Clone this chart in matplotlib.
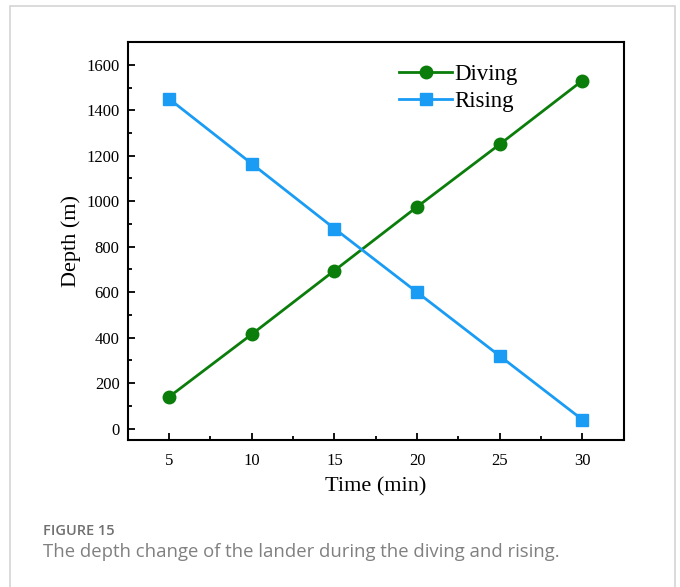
import matplotlib.pyplot as plt
from matplotlib.patches import Rectangle
from matplotlib.ticker import MultipleLocator

time_min = [5, 10, 15, 20, 25, 30]
diving = [140, 415, 695, 975, 1250, 1530]
rising = [1450, 1165, 880, 600, 320, 40]

plt.rcParams['font.family'] = ['Liberation Serif', 'DejaVu Serif']

fig = plt.figure(figsize=(6.8, 5.87), dpi=100)

# light frame around the figure card
fig.patches.append(Rectangle((10 / 680, -0.05), 665 / 680, 1.05 - 6 / 587,
                             transform=fig.transFigure, fill=False,
                             edgecolor='#d4d4d4', linewidth=1.2))

ax = fig.add_axes([0.188, 0.2504, 0.729, 0.678])
ax.plot(time_min, diving, color='#0a7d0a', linewidth=2, marker='o',
        markersize=9, label='Diving')
ax.plot(time_min, rising, color='#1a9cf5', linewidth=2, marker='s',
        markersize=8, label='Rising')

ax.set_xlim(2.5, 32.5)
ax.set_ylim(-50, 1700)
ax.xaxis.set_major_locator(MultipleLocator(5))
ax.xaxis.set_minor_locator(MultipleLocator(2.5))
ax.yaxis.set_major_locator(MultipleLocator(200))
ax.yaxis.set_minor_locator(MultipleLocator(100))
ax.tick_params(which='both', direction='in', width=1.3, labelsize=12)
ax.tick_params(which='major', length=5)
ax.tick_params(which='minor', length=3)
ax.tick_params(axis='x', pad=9)
ax.tick_params(axis='y', pad=6)
for s in ax.spines.values():
    s.set_linewidth(1.5)

ax.set_xlabel('Time (min)', fontsize=16, labelpad=6)
ax.set_ylabel('Depth (m)', fontsize=16, labelpad=4)

ax.legend(loc='upper left', bbox_to_anchor=(0.515, 0.985), frameon=False,
          fontsize=16.5, handlelength=2.3, handletextpad=0.1,
          labelspacing=0.25, borderaxespad=0.3)

fig.text(43 / 680, 1 - 531 / 587, 'FIGURE 15', family='Open Sans',
         fontsize=10.5, color='#707070', fontweight='semibold', va='center')
fig.text(43 / 680, 1 - 552 / 587,
         'The depth change of the lander during the diving and rising.',
         family='Open Sans', fontsize=13.3, color='#808080', va='center')

fig.savefig('out.png', dpi=100)
